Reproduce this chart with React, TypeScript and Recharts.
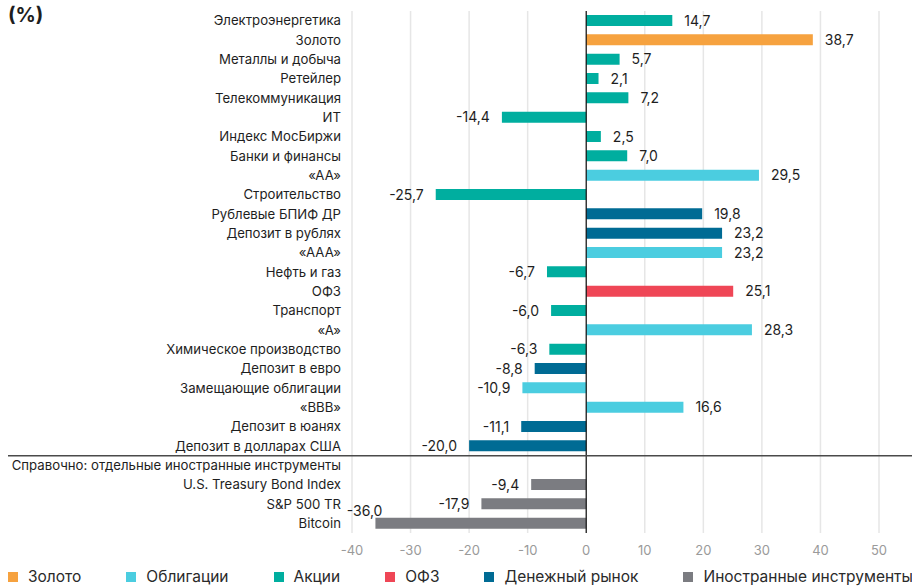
import React from "react";
import {
  Bar, BarChart, CartesianGrid, Cell, LabelList, ReferenceLine, XAxis, YAxis,
} from "recharts";

const categories = [
  "Электроэнергетика", "Золото", "Металлы и добыча", "Ретейлер", "Телекоммуникация", "ИТ",
  "Индекс МосБиржи", "Банки и финансы", "«АА»", "Строительство", "Рублевые БПИФ ДР",
  "Депозит в рублях", "«ААА»", "Нефть и газ", "ОФЗ", "Транспорт", "«А»",
  "Химическое производство", "Депозит в евро", "Замещающие облигации", "«ВВВ»",
  "Депозит в юанях", "Депозит в долларах США",
  "Справочно:  отдельные иностранные инструменты",
  "U.S. Treasury Bond Index", "S&P 500 TR", "Bitcoin",
];

const values: (number | null)[] = [
  14.7, 38.7, 5.7, 2.1, 7.2, -14.4, 2.5, 7.0, 29.5, -25.7, 19.8, 23.2, 23.2, -6.7,
  25.1, -6.0, 28.3, -6.3, -8.8, -10.9, 16.6, -11.1, -20.0, null, -9.4, -17.9, -36.0,
];

const groupNames = ["Золото", "Облигации", "Акции", "ОФЗ", "Денежный рынок", "Иностранные инструменты"];
const groupColors = ["#F6A23F", "#4BCDE0", "#00AE9F", "#EF4656", "#006B94", "#7B7C81"];

// group index per row (-1 = section header without a bar)
const groups = [
  2, 0, 2, 2, 2, 2, 2, 2, 1, 2, 4, 4, 1, 2, 3, 2, 1, 2, 4, 1, 1, 4, 4, -1, 5, 5, 5,
];

const xTicks = [-40, -30, -20, -10, 0, 10, 20, 30, 40, 50];

const FONT = "Inter, 'Noto Sans', sans-serif";
const W = 912;
const H = 560;
const TOP = 11;
const AXIS_H = 27;
const Y_W = 352;
const RIGHT = 33;
const ROW = (H - TOP - AXIS_H) / categories.length;

const data = categories.map((name, i) => ({ name, value: values[i], group: groups[i] }));

const fmt = (v: number) => v.toFixed(1).replace(".", ",");

function CatTick(props: any) {
  const { x, y, payload } = props;
  const isHeader = payload.value === categories[groups.indexOf(-1)];
  return (
    <g>
      {isHeader && (
        <line x1={8} x2={W} y1={y - ROW / 2} y2={y - ROW / 2} stroke="#4a4a4a" strokeWidth={1.5} />
      )}
      <text x={x} y={y} dy="0.36em" textAnchor="end" fontSize={13.2} fill="#1e1e1e" fontFamily={FONT}>
        {payload.value}
      </text>
    </g>
  );
}

function ValueLabel(props: any) {
  const { x, y, width, height, value } = props;
  if (value == null) return null;
  const left = Math.min(x, x + width);
  const right = Math.max(x, x + width);
  const cy = y + height / 2;
  let tx = value >= 0 ? right + 12 : left - 12;
  let ty = cy;
  const anchor: "start" | "end" = value >= 0 ? "start" : "end";
  // not enough room to the left: put the label above the bar end
  if (value < 0 && left - 60 < Y_W) {
    tx = left + 7;
    ty = cy - 12;
  }
  return (
    <text x={tx} y={ty} dy="0.36em" textAnchor={anchor} fontSize={14} fill="#1e1e1e" fontFamily={FONT}>
      {fmt(value)}
    </text>
  );
}

export default function App() {
  return (
    <div style={{ position: "absolute", left: 0, top: 0, width: W, height: 587, overflow: "hidden", background: "#fff", fontFamily: FONT }}>
      <div style={{ position: "absolute", left: 8, top: 3, fontSize: 20, fontWeight: 700, color: "#1e1e1e" }}>(%)</div>
      <BarChart
        width={W}
        height={H}
        data={data}
        layout="vertical"
        margin={{ top: TOP, right: RIGHT, bottom: 0, left: 0 }}
      >
        <CartesianGrid horizontal={false} vertical stroke="#e6e6e6" strokeWidth={1.5} />
        <XAxis
          type="number"
          domain={[-40, 50]}
          ticks={xTicks}
          height={AXIS_H}
          axisLine={false}
          tickLine={false}
          tickSize={0}
          tickMargin={13}
          tick={{ fontSize: 13, fill: "#9a9a9a", fontFamily: FONT }}
        />
        <YAxis
          type="category"
          dataKey="name"
          width={Y_W}
          interval={0}
          axisLine={false}
          tickLine={false}
          tickSize={0}
          tickMargin={11}
          tick={<CatTick />}
        />
        <Bar dataKey="value" barSize={11} isAnimationActive={false}>
          {data.map((d, i) => (
            <Cell key={i} fill={d.group >= 0 ? groupColors[d.group] : "transparent"} />
          ))}
          <LabelList dataKey="value" content={<ValueLabel />} />
        </Bar>
        <ReferenceLine x={0} stroke="#111" strokeWidth={1.2} />
      </BarChart>
      <div style={{ position: "absolute", left: 8, top: 569, height: 16, lineHeight: "16px", display: "flex", whiteSpace: "nowrap", fontSize: 15.5, color: "#2a2a2a" }}>
        {groupNames.map((g, i) => (
          <div key={g} style={{ display: "flex", alignItems: "center", marginRight: 45 }}>
            <span style={{ width: 10, height: 10, background: groupColors[i], marginRight: 10, display: "inline-block" }} />
            <span>{g}</span>
          </div>
        ))}
      </div>
    </div>
  );
}
